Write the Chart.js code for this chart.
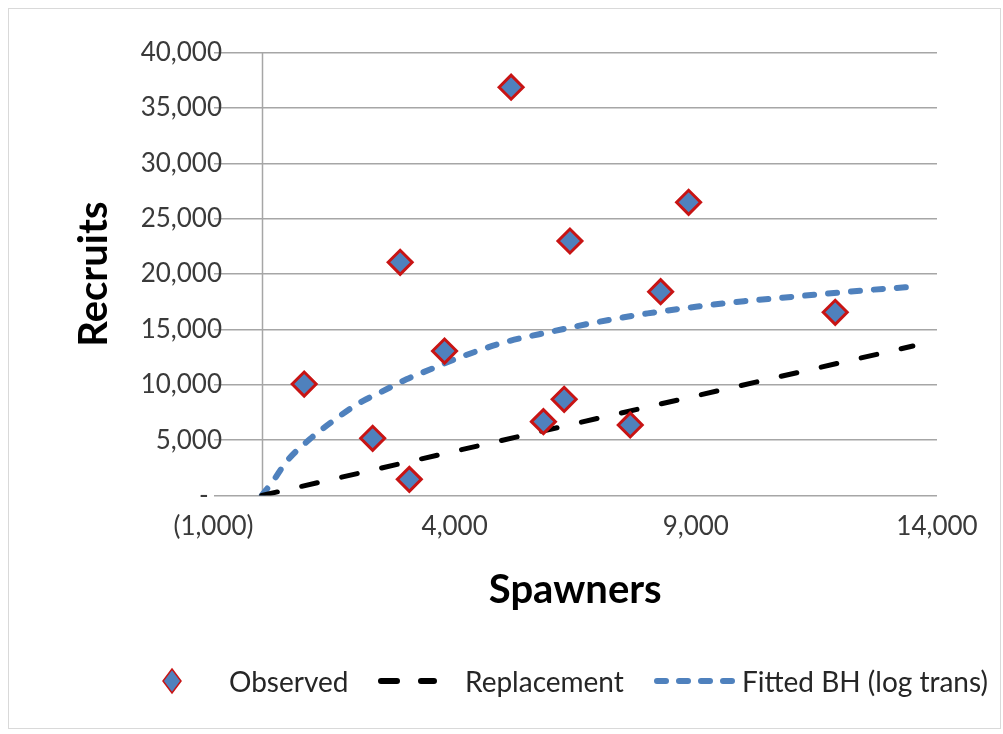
<!DOCTYPE html>
<html>
<head>
<meta charset="utf-8">
<script src="https://cdn.jsdelivr.net/npm/chart.js@4.4.1/dist/chart.umd.min.js"></script>
<style>
  html, body { margin: 0; padding: 0; background: #fff; }
  #wrap { position: relative; width: 1003px; height: 734px; overflow: hidden; }
  #c { position: absolute; left: 0; top: 0; }
  #frame { position: absolute; left: 8px; top: 8px; right: 2px; bottom: 5px; border: 1px solid #d9d9d9; pointer-events: none; }
  .lg { position: absolute; top: 663px; height: 36px; line-height: 36px; font-family: Lato, sans-serif; font-size: 28px; color: #262626; white-space: nowrap; }
  svg.sw { position: absolute; top: 663px; }
</style>
</head>
<body>
<div id="wrap">
  <canvas id="c" width="1003" height="734"></canvas>
  <div id="frame"></div>
  <svg class="sw" style="left:160px" width="24" height="36">
    <polygon points="12,6 21,18 12,30 3,18" fill="#4f81bd" stroke="#c81414" stroke-width="1.5"/>
  </svg>
  <div class="lg" style="left:229px">Observed</div>
  <svg class="sw" style="left:370px" width="80" height="36">
    <line x1="11" y1="18" x2="64" y2="18" stroke="#000" stroke-width="6" stroke-linecap="round" stroke-dasharray="16 24"/>
  </svg>
  <div class="lg" style="left:465px">Replacement</div>
  <svg class="sw" style="left:648px" width="95" height="36">
    <line x1="9" y1="18" x2="84" y2="18" stroke="#4f81bd" stroke-width="6" stroke-linecap="round" stroke-dasharray="9 13"/>
  </svg>
  <div class="lg" style="left:742px">Fitted BH (log trans)</div>
</div>
<script>
// Spawner / recruit observations
const spawners = [880, 2300, 2870, 3060, 3790, 5170, 5840, 6270, 6390, 7640, 8270, 8850, 11890];
const recruits = [10070, 5170, 21070, 1460, 13050, 36880, 6670, 8690, 22990, 6370, 18410, 26490, 16550];

// Replacement line (recruits = spawners)
const replacementSpawners = [0, 13500];
const replacementRecruits = [0, 13500];

// Fitted Beverton-Holt curve (log-transformed fit)
const bhSpawners = [0, 250, 500, 1000, 1500, 2000, 2500, 3000, 3500, 4000, 5000, 6000, 7000, 8000, 9000, 10000, 11000, 12000, 13000, 13500];
const bhRecruits = [0, 1400, 3000, 5100, 6800, 8300, 9400, 10500, 11400, 12300, 13800, 14800, 15700, 16450, 17050, 17550, 17950, 18350, 18700, 18850];

// Axis ticks
const xTicks = [-1000, 4000, 9000, 14000];
const yTicks = [0, 5000, 10000, 15000, 20000, 25000, 30000, 35000, 40000];

const seriesNames = ['Observed', 'Replacement', 'Fitted BH (log trans)'];
const axisTitles = { x: 'Spawners', y: 'Recruits' };

const GRID = '#a6a6a6';
const FONT = 'Lato';

// Accounting-style number format: (1,000), 4,000, and "-" for zero
function acct(v) {
  if (v === 0) return '-  ';
  const s = Math.abs(v).toLocaleString('en-US');
  return v < 0 ? '(' + s + ')' : s;
}

const toPoints = (xs, ys) => xs.map((x, i) => ({ x: x, y: ys[i] }));

// Vertical axis line drawn where spawners = 0
const zeroAxisLine = {
  id: 'zeroAxisLine',
  beforeDatasetsDraw(chart) {
    const { ctx, chartArea, scales } = chart;
    const x = Math.round(scales.x.getPixelForValue(0)) + 0.5;
    ctx.save();
    ctx.strokeStyle = GRID;
    ctx.lineWidth = 1.5;
    ctx.beginPath();
    ctx.moveTo(x, chartArea.top);
    ctx.lineTo(x, chartArea.bottom);
    ctx.stroke();
    ctx.restore();
  }
};

new Chart(document.getElementById('c'), {
  type: 'scatter',
  data: {
    datasets: [
      {
        label: seriesNames[0],
        data: toPoints(spawners, recruits),
        pointStyle: 'rectRot',
        pointRadius: 12,
        pointHoverRadius: 12,
        backgroundColor: '#4f81bd',
        borderColor: '#c81414',
        borderWidth: 3,
        showLine: false
      },
      {
        label: seriesNames[1],
        data: toPoints(replacementSpawners, replacementRecruits),
        showLine: true,
        pointRadius: 0,
        borderColor: '#000000',
        borderWidth: 5,
        borderDash: [16, 25],
        borderCapStyle: 'round',
        fill: false
      },
      {
        label: seriesNames[2],
        data: toPoints(bhSpawners, bhRecruits),
        showLine: true,
        pointRadius: 0,
        borderColor: '#4f81bd',
        borderWidth: 6,
        borderDash: [9, 14],
        borderCapStyle: 'round',
        cubicInterpolationMode: 'monotone',
        fill: false
      }
    ]
  },
  options: {
    responsive: false,
    animation: false,
    devicePixelRatio: 1,
    layout: { padding: { left: 0, right: 66, top: 52.7, bottom: 0 } },
    plugins: {
      legend: { display: false },
      tooltip: { enabled: false }
    },
    scales: {
      x: {
        type: 'linear',
        min: -1000,
        max: 14000,
        afterBuildTicks: (s) => { s.ticks = xTicks.map(v => ({ value: v })); },
        afterFit: (s) => { s.height = 238.5; },
        grid: { display: false, drawTicks: false },
        border: { display: false },
        ticks: {
          font: { family: FONT, size: 26 },
          color: '#3a3a3a',
          padding: 16,
          maxRotation: 0,
          callback: (v) => acct(v)
        },
        title: {
          display: true,
          text: axisTitles.x,
          font: { family: FONT, size: 40, weight: 'bold' },
          color: '#000000',
          padding: { top: 0, bottom: 120 }
        }
      },
      y: {
        type: 'linear',
        min: 0,
        max: 40000,
        afterBuildTicks: (s) => { s.ticks = yTicks.map(v => ({ value: v })); },
        afterFit: (s) => {
          s.width = 213.5;
          // labels overlap the start of the gridlines, so don't clip them to the axis box
          s._computeLabelArea = () => undefined;
        },
        grid: { color: GRID, lineWidth: 1.5, drawTicks: false },
        border: { display: false },
        ticks: {
          font: { family: FONT, size: 26 },
          color: '#3a3a3a',
          padding: -8.5,
          callback: (v) => acct(v)
        },
        title: {
          display: true,
          text: axisTitles.y,
          font: { family: FONT, size: 40, weight: 'bold' },
          color: '#000000',
          padding: { top: 70, bottom: 0 }
        }
      }
    }
  },
  plugins: [zeroAxisLine]
});
</script>
</body>
</html>
